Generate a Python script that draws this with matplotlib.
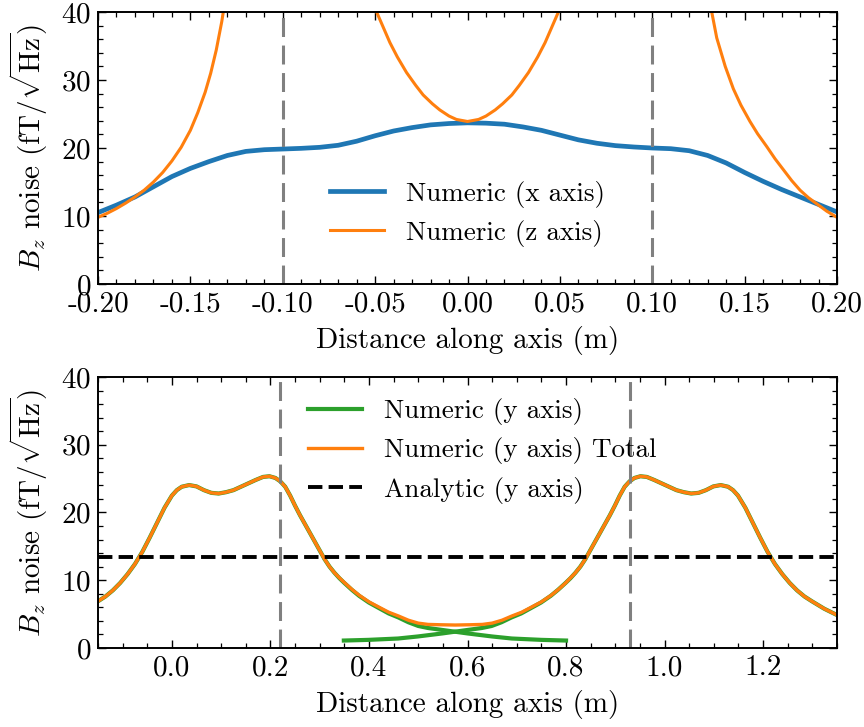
import numpy as np
import matplotlib
matplotlib.use('Agg')
import matplotlib.pyplot as plt
from matplotlib.ticker import MultipleLocator, FormatStrFormatter

nan = float('nan')

# ---- top panel data (x and z axes) ----
x_axis_pos = [-0.200, -0.190, -0.180, -0.170, -0.160, -0.150, -0.140, -0.130, -0.120, -0.110,
              -0.100, -0.090, -0.080, -0.070, -0.060, -0.050, -0.040, -0.030, -0.020, -0.010,
              0.000, 0.010, 0.020, 0.030, 0.040, 0.050, 0.060, 0.070, 0.080, 0.090,
              0.100, 0.110, 0.120, 0.130, 0.140, 0.150, 0.160, 0.170, 0.180, 0.190, 0.200]
x_axis_noise = [10.5, 11.6, 12.8, 14.3, 15.8, 17.0, 18.0, 18.9, 19.5, 19.75,
                19.85, 19.95, 20.1, 20.4, 21.0, 21.8, 22.5, 23.0, 23.4, 23.6,
                23.7, 23.65, 23.5, 23.1, 22.6, 21.9, 21.2, 20.7, 20.35, 20.15,
                20.0, 19.9, 19.6, 18.9, 17.8, 16.4, 15.1, 13.9, 12.8, 11.7, 10.6]

z_axis_pos = [-0.200, -0.195, -0.190, -0.185, -0.180, -0.175, -0.170, -0.165, -0.160, -0.155,
              -0.150, -0.146, -0.142, -0.139, -0.136, -0.133, -0.130, -0.127, nan,
              -0.055, -0.0492, -0.046, -0.042, -0.038, -0.033, -0.028, -0.024, -0.019, -0.015,
              -0.010, -0.006, 0.000, 0.006, 0.010, 0.015, 0.019, 0.024, 0.028, 0.033,
              0.038, 0.042, 0.046, 0.0492, 0.055, nan,
              0.126, 0.129, 0.1322, 0.1349, 0.1395, 0.1439, 0.148, 0.1529, 0.157, 0.162,
              0.1665, 0.171, 0.1755, 0.180, 0.1845, 0.189, 0.1945, 0.200]
z_axis_noise = [9.8, 10.4, 11.1, 11.9, 12.8, 13.8, 15.0, 16.4, 18.1, 20.1,
                22.6, 25.2, 28.2, 31.0, 34.4, 38.6, 43.8, 50.6, nan,
                46.0, 40.0, 38.0, 35.5, 33.4, 31.1, 29.2, 27.8, 26.5, 25.6,
                24.7, 24.2, 23.9, 24.2, 24.7, 25.6, 26.5, 27.8, 29.2, 31.1,
                33.4, 35.5, 38.0, 40.0, 46.0, nan,
                50.0, 45.0, 40.0, 36.2, 32.0, 28.7, 26.3, 23.9, 22.1, 20.2,
                18.4, 16.8, 15.2, 13.8, 12.7, 11.8, 10.7, 9.8]

coil_top = [-0.1, 0.1]

# ---- bottom panel data (y axis) ----
y1_pos = [-0.20, -0.175, -0.15, -0.135, -0.12, -0.105, -0.09, -0.075, -0.06, -0.045,
          -0.03, -0.015, 0.00, 0.01, 0.02, 0.035, 0.05, 0.065, 0.08, 0.095,
          0.11, 0.125, 0.14, 0.155, 0.17, 0.185, 0.198, 0.21, 0.22, 0.23,
          0.24, 0.25, 0.26, 0.27, 0.28, 0.29, 0.30, 0.31, 0.32, 0.33,
          0.34, 0.35, 0.365, 0.38, 0.40, 0.42, 0.44, 0.46, 0.48, 0.50,
          0.52, 0.54, 0.56, 0.58, 0.60, 0.65, 0.69, 0.75, 0.80]
y1_noise = [4.9, 5.8, 6.9, 7.6, 8.5, 9.6, 10.9, 12.4, 14.2, 16.3,
            18.5, 20.7, 22.5, 23.3, 23.8, 24.05, 23.85, 23.3, 22.9, 22.8,
            23.0, 23.3, 23.8, 24.3, 24.8, 25.25, 25.35, 25.1, 24.6, 23.8,
            22.5, 21.0, 19.6, 18.3, 17.0, 15.7, 14.4, 13.1, 12.0, 11.1,
            10.3, 9.6, 8.6, 7.7, 6.7, 5.9, 5.1, 4.5, 3.8, 3.25,
            2.95, 2.75, 2.55, 2.35, 2.15, 1.7, 1.4, 1.2, 1.1]

y2_pos = [0.349, 0.399, 0.459, 0.499, 0.549, 0.569, 0.589, 0.609, 0.629, 0.649,
          0.669, 0.689, 0.709, 0.729, 0.749, 0.769, 0.784, 0.799, 0.809, 0.819,
          0.829, 0.839, 0.849, 0.859, 0.869, 0.879, 0.889, 0.899, 0.909, 0.919,
          0.929, 0.939, 0.951, 0.964, 0.979, 0.994, 1.009, 1.024, 1.039, 1.054,
          1.069, 1.084, 1.099, 1.114, 1.129, 1.139, 1.149, 1.164, 1.179, 1.194,
          1.209, 1.224, 1.239, 1.254, 1.269, 1.284, 1.299, 1.324, 1.349]
y2_noise = [1.1, 1.2, 1.4, 1.7, 2.15, 2.35, 2.55, 2.75, 2.95, 3.25,
            3.8, 4.5, 5.1, 5.9, 6.7, 7.7, 8.6, 9.6, 10.3, 11.1,
            12.0, 13.1, 14.4, 15.7, 17.0, 18.3, 19.6, 21.0, 22.5, 23.8,
            24.6, 25.1, 25.35, 25.25, 24.8, 24.3, 23.8, 23.3, 23.0, 22.8,
            22.9, 23.3, 23.85, 24.05, 23.8, 23.3, 22.5, 20.7, 18.5, 16.3,
            14.2, 12.4, 10.9, 9.6, 8.5, 7.6, 6.9, 5.8, 4.9]

total_pos = [-0.20, -0.175, -0.15, -0.135, -0.12, -0.105, -0.09, -0.075, -0.06, -0.045,
             -0.03, -0.015, 0.00, 0.01, 0.02, 0.035, 0.05, 0.065, 0.08, 0.095,
             0.11, 0.125, 0.14, 0.155, 0.17, 0.185, 0.198, 0.21, 0.22, 0.23,
             0.24, 0.25, 0.26, 0.27, 0.28, 0.29, 0.30, 0.31, 0.32, 0.33, 0.34,
             0.35, 0.365, 0.38, 0.40, 0.42, 0.44, 0.46, 0.48, 0.50, 0.52,
             0.545, 0.575, 0.605, 0.63, 0.65, 0.67, 0.69, 0.71, 0.73, 0.75,
             0.77, 0.785, 0.80,
             0.809, 0.819, 0.829, 0.839, 0.849, 0.859, 0.869, 0.879, 0.889, 0.899,
             0.909, 0.919, 0.929, 0.939, 0.951, 0.964, 0.979, 0.994, 1.009, 1.024,
             1.039, 1.054, 1.069, 1.084, 1.099, 1.114, 1.129, 1.139, 1.149, 1.164,
             1.179, 1.194, 1.209, 1.224, 1.239, 1.254, 1.269, 1.284, 1.299, 1.324, 1.349]
total_noise = [4.9, 5.8, 6.9, 7.6, 8.5, 9.6, 10.9, 12.4, 14.2, 16.3,
               18.5, 20.7, 22.5, 23.3, 23.8, 24.05, 23.85, 23.3, 22.9, 22.8,
               23.0, 23.3, 23.8, 24.3, 24.8, 25.25, 25.35, 25.1, 24.6, 23.8,
               22.5, 21.0, 19.6, 18.3, 17.0, 15.7, 14.4, 13.1, 12.0, 11.1, 10.35,
               9.66, 8.67, 7.79, 6.81, 6.04, 5.28, 4.72, 4.10, 3.67, 3.48,
               3.43, 3.39, 3.43, 3.48, 3.67, 4.10, 4.72, 5.28, 6.04, 6.81,
               7.79, 8.67, 9.66,
               10.35, 11.1, 12.0, 13.1, 14.4, 15.7, 17.0, 18.3, 19.6, 21.0,
               22.5, 23.8, 24.6, 25.1, 25.35, 25.25, 24.8, 24.3, 23.8, 23.3,
               23.0, 22.8, 22.9, 23.3, 23.85, 24.05, 23.8, 23.3, 22.5, 20.7,
               18.5, 16.3, 14.2, 12.4, 10.9, 9.6, 8.5, 7.6, 6.9, 5.8, 4.9]

analytic_level = 13.4
coil_bottom = [0.2195, 0.9297]

plt.rcParams.update({
    'font.family': 'cmr10',
    'mathtext.fontset': 'cm',
    'axes.unicode_minus': False,
    'axes.formatter.use_mathtext': True,
    'font.size': 21,
    'xtick.direction': 'in', 'ytick.direction': 'in',
    'xtick.top': True, 'ytick.right': True,
    'xtick.major.size': 6, 'ytick.major.size': 6,
    'xtick.minor.size': 3.5, 'ytick.minor.size': 3.5,
    'xtick.major.width': 1.0, 'ytick.major.width': 1.0,
    'xtick.minor.width': 0.9, 'ytick.minor.width': 0.9,
    'xtick.major.pad': 5, 'ytick.major.pad': 5,
    'axes.linewidth': 1.4,
})

fig = plt.figure(figsize=(8.64, 7.27), dpi=100)
ax1 = fig.add_axes([0.11343, 0.60935, 0.85532, 0.37414])
ax2 = fig.add_axes([0.11343, 0.10867, 0.85532, 0.37276])

BLUE = '#1f77b4'
ORANGE = '#ff7f0e'
GREEN = '#2ca02c'
GRAY = '#808080'
ylabel = r'$B_z$ noise (fT/$\sqrt{\mathrm{Hz}}$)'

# top
ax1.plot(x_axis_pos, x_axis_noise, color=BLUE, lw=3.4, label='Numeric (x axis)')
ax1.plot(z_axis_pos, z_axis_noise, color=ORANGE, lw=2.2, label='Numeric (z axis)')
for c in coil_top:
    ax1.axvline(c, color=GRAY, lw=2.2, ls=(0, (6.2, 2.8)))
ax1.set_xlim(-0.2, 0.2)
ax1.set_ylim(0, 40)
ax1.xaxis.set_major_locator(MultipleLocator(0.05))
ax1.xaxis.set_minor_locator(MultipleLocator(0.01))
ax1.xaxis.set_major_formatter(FormatStrFormatter('%.2f'))
ax1.yaxis.set_major_locator(MultipleLocator(10))
ax1.yaxis.set_minor_locator(MultipleLocator(2))
ax1.set_xlabel('Distance along axis (m)', labelpad=6)
ax1.set_ylabel(ylabel, labelpad=8)
ax1.legend(loc='center', bbox_to_anchor=(0.5, 0.258), frameon=False, fontsize=19.5,
           handlelength=2.0, labelspacing=0.45)

# bottom
ax2.plot(y1_pos, y1_noise, color=GREEN, lw=3.0, label='Numeric (y axis)')
ax2.plot(y2_pos, y2_noise, color=GREEN, lw=3.0)
ax2.plot(total_pos, total_noise, color=ORANGE, lw=2.4, label='Numeric (y axis) Total')
ax2.axhline(analytic_level, color='k', lw=2.8, ls='--', label='Analytic (y axis)')
for c in coil_bottom:
    ax2.axvline(c, color=GRAY, lw=2.2, ls=(0, (6.2, 2.8)))
ax2.set_xlim(-0.15, 1.35)
ax2.set_ylim(0, 40)
ax2.xaxis.set_major_locator(MultipleLocator(0.2))
ax2.xaxis.set_minor_locator(MultipleLocator(0.05))
ax2.xaxis.set_major_formatter(FormatStrFormatter('%.1f'))
ax2.yaxis.set_major_locator(MultipleLocator(10))
ax2.yaxis.set_minor_locator(MultipleLocator(2))
ax2.set_xlabel('Distance along axis (m)', labelpad=6)
ax2.set_ylabel(ylabel, labelpad=8)
ax2.legend(loc='center', bbox_to_anchor=(0.52, 0.727), frameon=False, fontsize=19.5,
           handlelength=2.0, labelspacing=0.45)

fig.savefig('out.png', dpi=100)
